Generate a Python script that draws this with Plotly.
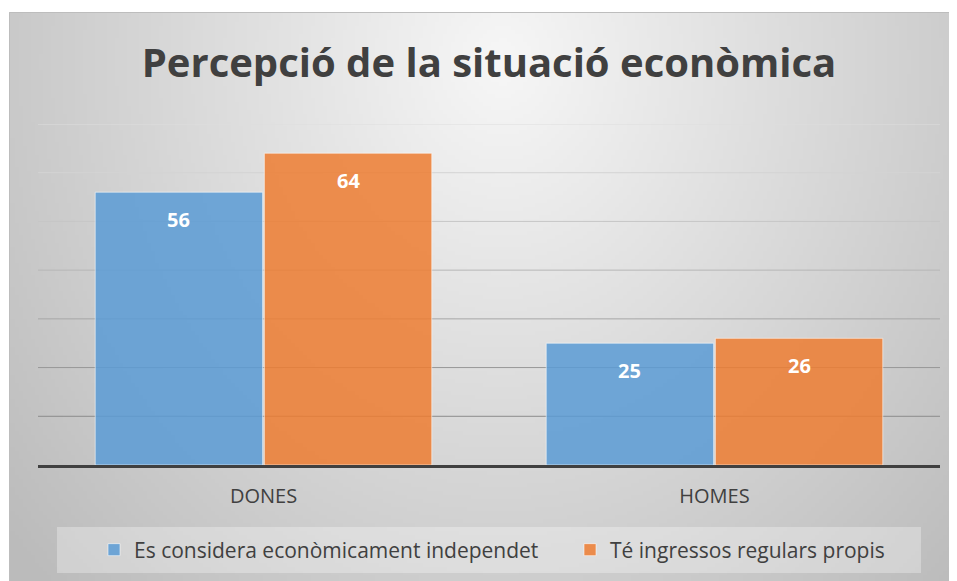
import zlib, struct, base64, math
import plotly.graph_objects as go

# ---- data ----
categories = ["DONES", "HOMES"]
series_names = ["Es considera econòmicament independet", "Té ingressos regulars propis"]
independent = [56, 25]
regular_income = [64, 26]
grid_values = [10, 20, 30, 40, 50, 60, 70]

# the page body has an 8px margin; work in reference pixel coordinates
OX, OY = 8, 8
W, H = 949, 573
def px(x):
    return (x - OX) / W
def py(y):
    return 1 - (y - OY) / H

colors = ["rgba(91,155,213,0.85)", "rgba(237,125,49,0.85)"]
grid_colors = ["#8c8c8c", "#979797", "#a6a6a6", "#b6b6b6", "#c6c6c6", "#d3d3d3", "#dddddd"]
TXT = "#404040"
FONT = "Open Sans"
BARGAP = 0.25


# ---- background gradient png (styling only) ----
def make_png(w, h, fn):
    raw = b""
    for j in range(h):
        raw += b"\x00" + bytes(fn(i, j) for i in range(w))
    def chunk(tag, data):
        return struct.pack(">I", len(data)) + tag + data + struct.pack(">I", zlib.crc32(tag + data) & 0xffffffff)
    png = b"\x89PNG\r\n\x1a\n"
    png += chunk(b"IHDR", struct.pack(">IIBBBBB", w, h, 8, 0, 0, 0, 0))
    png += chunk(b"IDAT", zlib.compress(raw, 9))
    png += chunk(b"IEND", b"")
    return "data:image/png;base64," + base64.b64encode(png).decode()

BX0, BY0, BX1, BY1 = 9, 12, 957, 581
S = 4
def grad(i, j):
    x = BX0 + i * S
    y = BY0 + j * S
    dx = (x - 500) / 560.0
    dy = (y - 60) / 650.0
    t = min(math.sqrt(dx * dx + dy * dy), 1.15)
    return max(0, min(255, int(247 - 52 * t)))

bg = make_png((BX1 - BX0) // S, (BY1 - BY0) // S, grad)

fig = go.Figure()
legend_refs = ["legend", "legend2"]
for name, vals, c, lg in zip(series_names, [independent, regular_income], colors, legend_refs):
    fig.add_trace(go.Bar(
        x=categories, y=vals, name=name, legend=lg,
        marker=dict(color=c, line=dict(color="rgba(255,255,255,0.55)", width=1)),
        hoverinfo="skip",
    ))

# data labels
bw = (1 - BARGAP) / 2
annotations = []
for k, vals in enumerate([independent, regular_income]):
    for i, v in enumerate(vals):
        annotations.append(dict(
            x=i + (k - 0.5) * bw, y=v, xref="x", yref="y",
            text=str(v), showarrow=False, yanchor="middle", yshift=-27,
            font=dict(family=FONT, size=20, color="white", weight="bold"),
        ))

shapes = []
for v, gc in zip(grid_values, grid_colors):
    shapes.append(dict(type="line", xref="x domain", yref="y", x0=0, x1=1, y0=v, y1=v,
                       line=dict(color=gc, width=1), layer="below"))
# legend box
shapes.append(dict(type="rect", xref="paper", yref="paper",
                   x0=px(57), x1=px(921), y0=py(573), y1=py(527),
                   fillcolor="rgba(255,255,255,0.3)", line=dict(width=0), layer="below"))
# chart border
shapes.append(dict(type="rect", xref="paper", yref="paper",
                   x0=px(9.5), x1=1.01, y0=-0.01, y1=py(12.5),
                   line=dict(color="#bdbdbd", width=1), fillcolor="rgba(0,0,0,0)", layer="below"))

legend_style = dict(orientation="h", xanchor="left", y=py(550), yanchor="middle",
                    bgcolor="rgba(0,0,0,0)", font=dict(family=FONT, size=21, color=TXT))

fig.update_layout(
    width=W, height=H, autosize=False,
    margin=dict(l=0, r=0, t=0, b=0),
    paper_bgcolor="white", plot_bgcolor="rgba(0,0,0,0)",
    barmode="group", bargap=BARGAP, bargroupgap=0.01,
    title=dict(text="Percepció de la situació econòmica", x=px(489), xanchor="center",
               y=py(63), yanchor="middle", yref="container",
               font=dict(family=FONT, size=40, color=TXT, weight="bold")),
    xaxis=dict(domain=[px(38), px(940)], showgrid=False, showline=True, linecolor=TXT,
               linewidth=3, ticks="", tickfont=dict(family=FONT, size=20, color=TXT),
               ticklabelstandoff=11, automargin=False, zeroline=False),
    yaxis=dict(domain=[py(465), py(124)], range=[0, 70], showgrid=False, showticklabels=False,
               zeroline=False, automargin=False),
    legend=dict(x=px(94), **legend_style),
    legend2=dict(x=px(570), **legend_style),
    images=[dict(source=bg, xref="paper", yref="paper", x=px(BX0), y=py(BY0),
                 sizex=(BX1 - BX0) / W, sizey=(BY1 - BY0) / H, xanchor="left", yanchor="top",
                 sizing="stretch", layer="below")],
    shapes=shapes,
    annotations=annotations,
    showlegend=True,
    hovermode=False,
)

fig.write_html("out.html")
